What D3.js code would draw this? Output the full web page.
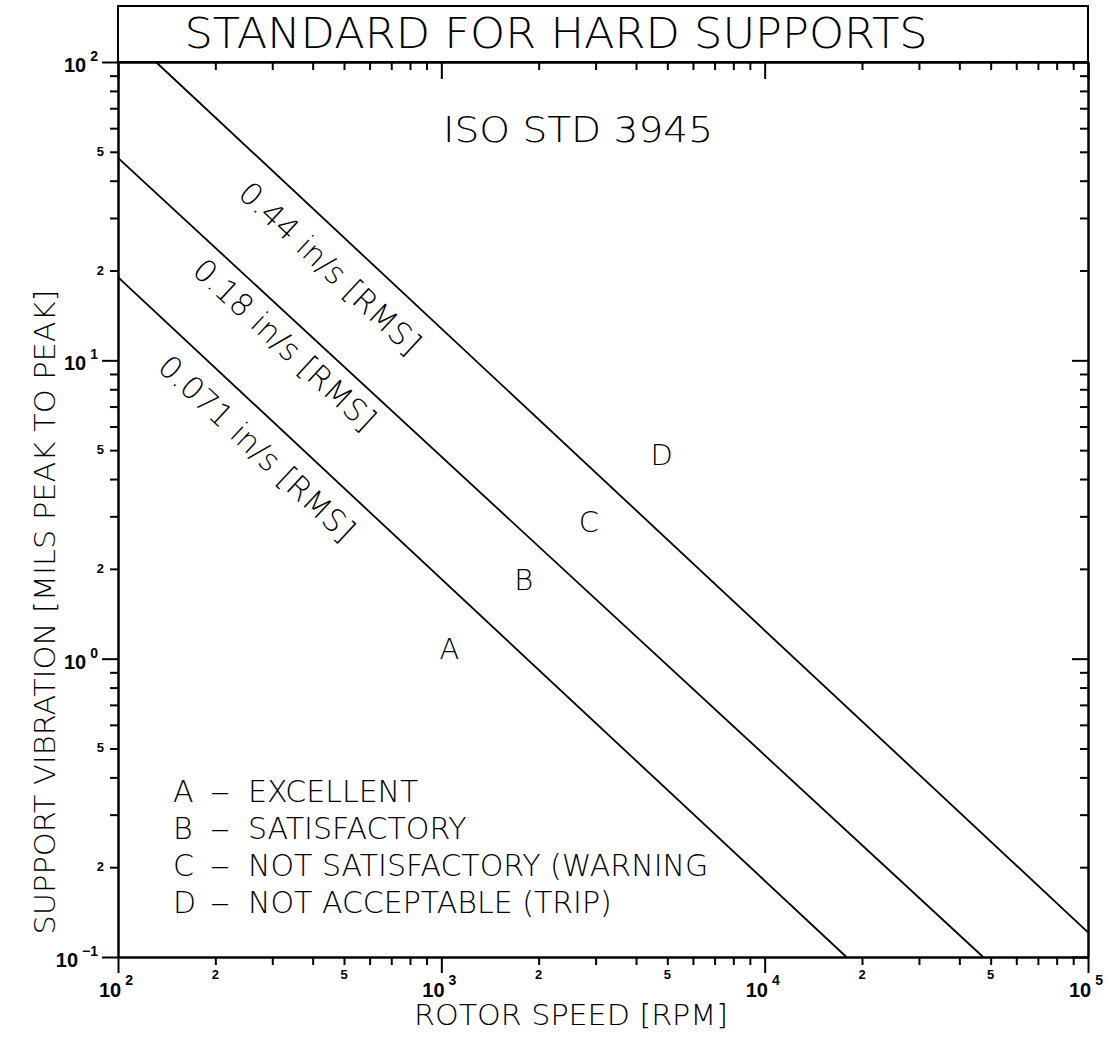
<html lang="en">
<head>
<meta charset="UTF-8">
<title>Standard for Hard Supports</title>
<style>
  body { margin: 0; background: #fff; }
  .thin { font-family: "DejaVu Sans", sans-serif; font-weight: 200; fill: #000; }
  .tick-lbl { font-family: "Liberation Sans", Arial, sans-serif; font-weight: bold; fill: #000; }
  .axis path, .axis line { stroke: #000; stroke-width: 2; }
</style>
</head>
<body>
<div id="chart"></div>
<script src="https://d3js.org/d3.v7.min.js"></script>
<script>
// reference lines (rpm, mils peak-to-peak)
const lineNames = ["0.44 in/s [RMS]", "0.18 in/s [RMS]", "0.071 in/s [RMS]"];
const lineStart = [[131, 100], [100, 47.7], [100, 19.0]];
const lineEnd = [[100000, 0.121], [47400, 0.1], [17900, 0.1]];
const lineLabelAt = [[453, 20.4], [328, 11.3], [269, 5.08]];

// zone letters
const zoneLetters = ["A", "B", "C", "D"];
const zoneAt = [[1060, 1.08], [1800, 1.83], [2860, 2.87], [4800, 4.8]];
const zoneNames = ["EXCELLENT", "SATISFACTORY", "NOT SATISFACTORY (WARNING", "NOT ACCEPTABLE (TRIP)"];

const xDecades = [2, 3, 4, 5];
const yDecades = [-1, 0, 1, 2];
const minorLabels = [2, 5];

const margin = {top: 62, left: 118};
const width = 970, height = 895;

const svg = d3.select("#chart").append("svg")
  .attr("width", 1110).attr("height", 1046);

const g = svg.append("g").attr("transform", `translate(${margin.left},${margin.top})`);

const x = d3.scaleLog().domain([1e2, 1e5]).range([0, width]);
const y = d3.scaleLog().domain([1e-1, 1e2]).range([height, 0]);

// tick values
const majorX = xDecades.map(d => Math.pow(10, d));
const majorY = yDecades.map(d => Math.pow(10, d));
const minorX = [], minorY = [];
xDecades.slice(0, -1).forEach(d => { for (let k = 2; k < 10; k++) minorX.push(k * Math.pow(10, d)); });
yDecades.slice(0, -1).forEach(d => { for (let k = 2; k < 10; k++) minorY.push(k * Math.pow(10, d)); });

function addAxis(axisFn, scale, vals, size, tr) {
  g.append("g").attr("class", "axis").attr("transform", tr)
    .call(axisFn(scale).tickValues(vals).tickSize(size).tickSizeOuter(0).tickFormat(""));
}
// bottom and left: ticks outside; top and right: ticks inside
addAxis(d3.axisBottom, x, minorX, 8, `translate(0,${height})`);
addAxis(d3.axisBottom, x, majorX, 16, `translate(0,${height})`);
addAxis(d3.axisBottom, x, minorX, 8, "translate(0,0)");
addAxis(d3.axisBottom, x, majorX, 17, "translate(0,0)");
addAxis(d3.axisLeft, y, minorY, 8, "translate(0,0)");
addAxis(d3.axisLeft, y, majorY, 16, "translate(0,0)");
addAxis(d3.axisLeft, y, minorY, 8, `translate(${width},0)`);
addAxis(d3.axisLeft, y, majorY, 16, `translate(${width},0)`);

// title box
g.append("rect").attr("x", 0).attr("y", -56).attr("width", width).attr("height", 56)
  .attr("fill", "none").attr("stroke", "#000").attr("stroke-width", 2);
g.append("text").attr("class", "thin")
  .attr("x", 438).attr("y", -14).attr("text-anchor", "middle")
  .attr("font-size", 43).attr("textLength", 743).attr("lengthAdjust", "spacingAndGlyphs")
  .text("STANDARD FOR HARD SUPPORTS");

g.append("text").attr("class", "thin")
  .attr("x", 460).attr("y", 80).attr("text-anchor", "middle")
  .attr("font-size", 36).attr("textLength", 270).attr("lengthAdjust", "spacingAndGlyphs")
  .text("ISO STD 3945");

// decade labels
majorX.forEach((v, i) => {
  const t = g.append("text").attr("class", "tick-lbl")
    .attr("x", x(v) - 2).attr("y", height + 40).attr("text-anchor", "middle");
  t.append("tspan").attr("font-size", 20).text("10");
  t.append("tspan").attr("font-size", 14).attr("dy", -12).attr("dx", 4).text(xDecades[i]);
});
majorY.forEach((v, i) => {
  const t = g.append("text").attr("class", "tick-lbl")
    .attr("x", -20).attr("y", y(v) + 10).attr("text-anchor", "end");
  t.append("tspan").attr("font-size", 20).text("10");
  t.append("tspan").attr("font-size", 14).attr("dy", -11).attr("dx", 4)
    .text(yDecades[i] < 0 ? "\u2212" + Math.abs(yDecades[i]) : yDecades[i]);
});
// minor labels 2 and 5
xDecades.slice(0, -1).forEach(d => minorLabels.forEach(k => {
  g.append("text").attr("class", "tick-lbl").attr("font-size", 13)
    .attr("x", x(k * Math.pow(10, d))).attr("y", height + 22).attr("text-anchor", "middle").text(k);
}));
yDecades.slice(0, -1).forEach(d => minorLabels.forEach(k => {
  g.append("text").attr("class", "tick-lbl").attr("font-size", 13)
    .attr("x", -14).attr("y", y(k * Math.pow(10, d)) + 4).attr("text-anchor", "end").text(k);
}));

// axis titles
g.append("text").attr("class", "thin")
  .attr("x", 453).attr("y", height + 68).attr("text-anchor", "middle")
  .attr("font-size", 28).attr("textLength", 314).attr("lengthAdjust", "spacingAndGlyphs")
  .text("ROTOR SPEED [RPM]");
g.append("text").attr("class", "thin")
  .attr("transform", `translate(-63,${612 - margin.top}) rotate(-90)`)
  .attr("text-anchor", "middle")
  .attr("font-size", 28).attr("textLength", 645).attr("lengthAdjust", "spacingAndGlyphs")
  .text("SUPPORT VIBRATION [MILS PEAK TO PEAK]");

// criteria lines
const line = d3.line().x(d => x(d[0])).y(d => y(d[1]));
lineNames.forEach((name, i) => {
  g.append("path").datum([lineStart[i], lineEnd[i]])
    .attr("fill", "none").attr("stroke", "#000").attr("stroke-width", 1.8)
    .attr("d", line);
  const ang = Math.atan2(y(lineEnd[i][1]) - y(lineStart[i][1]), x(lineEnd[i][0]) - x(lineStart[i][0])) * 180 / Math.PI;
  const px = x(lineLabelAt[i][0]), py = y(lineLabelAt[i][1]);
  g.append("text").attr("class", "thin")
    .attr("transform", `translate(${px},${py}) rotate(${ang})`)
    .attr("text-anchor", "middle").attr("dominant-baseline", "central")
    .attr("font-size", 31).text(name);
});

// zone letters
zoneLetters.forEach((z, i) => {
  g.append("text").attr("class", "thin")
    .attr("x", x(zoneAt[i][0])).attr("y", y(zoneAt[i][1]))
    .attr("text-anchor", "middle").attr("dominant-baseline", "central")
    .attr("font-size", 29).text(z);
});

// legend
zoneLetters.forEach((z, i) => {
  const by = 802 + i * 37 - margin.top;
  g.append("text").attr("class", "thin").attr("x", 55).attr("y", by).attr("font-size", 30).text(z);
  g.append("text").attr("class", "thin").attr("x", 92).attr("y", by).attr("font-size", 30)
    .attr("textLength", 20).attr("lengthAdjust", "spacingAndGlyphs").text("\u2013");
  g.append("text").attr("class", "thin").attr("x", 130).attr("y", by).attr("font-size", 30).text(zoneNames[i]);
});
</script>
</body>
</html>
